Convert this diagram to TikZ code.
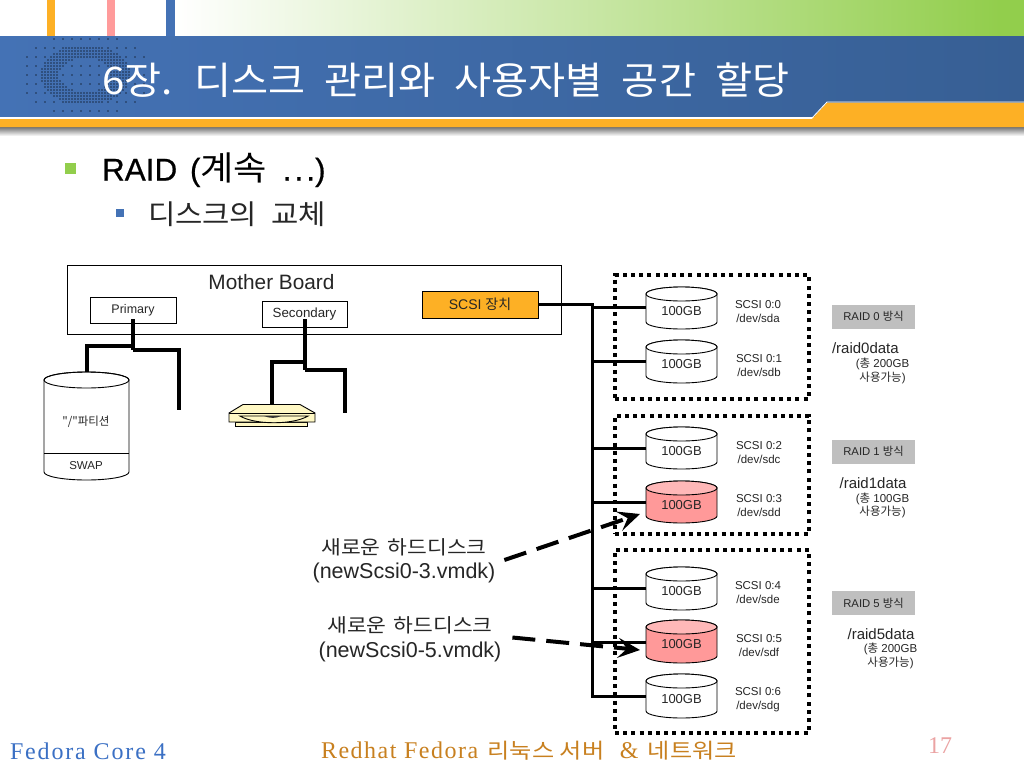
\documentclass[tikz,border=0pt]{standalone}
\usepackage{fontspec}
\setmainfont{Liberation Sans}
\newfontfamily\kr{Noto Sans CJK KR}
\newfontfamily\krw[FakeStretch=1.08,WordSpace=2.1]{Noto Sans CJK KR}
\newfontfamily\krt[FakeStretch=1.06,WordSpace=2.1]{Noto Sans CJK KR}
\newfontfamily\krf[FakeStretch=1.12,WordSpace=1.5]{Noto Sans CJK KR}
\newfontfamily\krg[FakeStretch=1.15]{Noto Sans CJK KR}
\newfontfamily\srf[LetterSpace=7.7]{Liberation Serif}
\newfontfamily\srg[LetterSpace=6.3]{Liberation Serif}
\newfontfamily\srfn{Liberation Serif}
\newfontfamily\lbf[FakeBold=0.6]{Liberation Sans}
\usetikzlibrary{arrows.meta}
\definecolor{orangeA}{HTML}{FDB025}
\definecolor{pinkA}{HTML}{FF9B9B}
\definecolor{blueA}{HTML}{4472B5}
\definecolor{blueB}{HTML}{375F94}
\definecolor{greenA}{HTML}{92CE4C}
\definecolor{diskbody}{HTML}{FF9999}
\definecolor{disktop}{HTML}{FFB8B8}
\definecolor{raidgray}{HTML}{BFBFBF}
\definecolor{txt}{HTML}{262626}
\definecolor{cdfill}{HTML}{FFF8C4}
\definecolor{footblue}{HTML}{3B70C4}
\definecolor{footor}{HTML}{C8801F}
\definecolor{footpink}{HTML}{EBA3A3}
\tikzset{
  box/.style={draw=black,line width=.9pt,inner sep=0pt,fill=white},
  plain/.style={inner sep=0pt,outer sep=0pt,text=txt,align=center},
  small/.style={plain,font=\fontsize{11.5}{14}\selectfont},
  thickbus/.style={line width=3pt,line join=miter},
  idebus/.style={line width=4pt,line join=miter},
  dotbox/.style={draw=black,line width=4pt,dash pattern=on 4pt off 4.2pt},
  newdisk/.style={line width=4pt,dash pattern=on 23pt off 11pt,-{Stealth[length=22pt,width=20pt,inset=9pt]}},
  raidbox/.style={inner sep=0pt,fill=raidgray,minimum width=83pt,minimum height=24pt,text=txt,font=\fontsize{11.3}{12}\selectfont},
  newlabel/.style={plain,font=\fontsize{21.5}{24.5}\selectfont},
  raidname/.style={plain,font=\fontsize{15}{16}\selectfont},
  raidnote/.style={plain,font=\fontsize{11.5}{13.5}\selectfont},
}
% name, top y, bottom y, body colour, top colour
\newcommand{\disk}[5]{%
  \pgfmathsetmacro{\mid}{(#2+#3)/2}
  \draw[line width=.9pt,fill=#4] (646,#2+7) -- (646,#3-7) arc[start angle=180,end angle=0,x radius=35.5,y radius=7] -- (717,#2+7) arc[start angle=0,end angle=-180,x radius=35.5,y radius=7] -- cycle;
  \draw[line width=.9pt,fill=#5] (681.5,#2+7) ellipse[x radius=35.5,y radius=7];
  \node[inner sep=0pt,minimum width=71pt,minimum height=30pt] (#1) at (681.5,\mid) {};
  \node[plain,font=\fontsize{13}{14}\selectfont] (#1t) at (681.5,\mid+3) {100GB};
}
\begin{document}
\begin{tikzpicture}[x=1pt,y=-1pt]
\useasboundingbox (0,0) rectangle (1024,768);
\fill[white] (0,0) rectangle (1024,768);
% header
\shade[left color=white,right color=greenA] (175,0) rectangle (1000,37);
\fill[greenA] (1000,0) rectangle (1024,37);
\fill[orangeA] (47,0) rectangle (55,37);
\fill[pinkA] (107,0) rectangle (115,37);
\fill[blueA] (166,0) rectangle (175,37);
\shade[top color=black!55,bottom color=white] (0,127) rectangle (1024,136);
\shade[left color=blueA,right color=blueB] (0,37) rectangle (1024,118);
\foreach \x in {18,21,...,150}{\foreach \y in {39,42,...,111}{%
  \pgfmathsetmacro{\dd}{((\x-85)/45)^2+((\y-75)/30)^2}
  \pgfmathtruncatemacro{\kind}{\dd<1 && \dd>0.32 ? 1 : ((\dd<2.1 && mod(\x,9)==0 && mod(\y,9)==3) ? 1 : 0)}
  \ifnum\kind=1 \fill[blueB!50!black] (\x,\y) circle[radius=.8]; \fi
}}
\fill[white] (0,117) rectangle (815,119);
\fill[orangeA] (0,119) -- (812,119) -- (827,102.5) -- (1024,102.5) -- (1024,127) -- (0,127) -- cycle;
\draw[white,line width=.8pt] (812,118) -- (827,102) -- (1024,102);
\node[plain,text=white,anchor=west,font=\krt\fontsize{38}{40}\selectfont] (title) at (102,80) {6장. 디스크 관리와 사용자별 공간 할당};
% bullets
\fill[greenA] (65,163) rectangle (76,174);
\node[plain,anchor=west,text=black,font=\lbf\fontsize{31.5}{34}\selectfont] (b1) at (102,170) {RAID\hspace{4pt} ({\krw\fontsize{33.5}{34}\selectfont 계속}\hspace{7pt} .\hspace{3pt}.\hspace{3pt}.)};
\fill[blueA] (116,209) rectangle (124,217);
\node[plain,anchor=west,font=\krw\fontsize{27.5}{32}\selectfont] (b2) at (148,214) {디스크의 교체};
% motherboard
\node[box,minimum width=494pt,minimum height=69pt] (mb) at (314,299.5) {};
\node[plain,font=\fontsize{20.8}{22}\selectfont] (mbt) at (271.5,282) {Mother Board};
\node[box,minimum width=86pt,minimum height=26pt,font=\fontsize{12.5}{14}\selectfont,text=txt] (prim) at (133,310) {Primary};
\node[box,minimum width=85pt,minimum height=26pt,font=\fontsize{13.3}{14}\selectfont,text=txt] (sec) at (304.5,314) {Secondary};
\node[box,fill=orangeA,minimum width=116pt,minimum height=27pt,font=\fontsize{14}{15}\selectfont,text=txt] (scsi) at (480,304.5) {SCSI {\kr 장치}};
% hdd on primary
\draw[line width=.9pt,fill=white] (44,380) -- (44,472) arc[start angle=180,end angle=0,x radius=42.5,y radius=8] -- (129,380) arc[start angle=0,end angle=-180,x radius=42.5,y radius=8] -- cycle;
\draw[line width=.9pt] (86.5,380) ellipse[x radius=42.5,y radius=8];
\draw[line width=.9pt] (44,453) -- (129,453);
\coordinate (hdd) at (87,372);
\node[plain,font=\kr\fontsize{11.5}{12}\selectfont] (part) at (86,422) {"/"파티션};
\node[plain,font=\fontsize{11.5}{14}\selectfont] (swap) at (86,466) {SWAP};
% cd drive
\draw[line width=.9pt,fill=cdfill] (235,422) rectangle (307,426.5);
\draw[line width=.9pt,fill=cdfill] (229,413) -- (243,404.5) -- (300,404.5) -- (315,413) -- (315,422) -- (229,422) -- cycle;
\draw[line width=.9pt] (229,413) -- (315,413);
\draw[line width=.9pt,fill=cdfill] (240,416) .. controls (255,425) and (293,425) .. (308,416) -- cycle;
\fill[black!80] (264,416) .. controls (270,418.5) and (276,418.5) .. (281,416) -- cycle;
\coordinate (cd) at (272,404);
% ide buses
\coordinate (pa) at (133,319);\coordinate (pl) at (133,346);\coordinate (pr) at (133,350);
\coordinate (pl2) at (87,346);\coordinate (pr2) at (179,350);\coordinate (pe) at (179,410);
\draw[idebus] (pa) -- (pr);
\draw[idebus] (pl) -- (pl2) -- (hdd);
\draw[idebus] (pr) -- (pr2) -- (pe);
\coordinate (sa) at (305,319);\coordinate (sl) at (305,362);\coordinate (sr) at (305,370);
\coordinate (sl2) at (272,362);\coordinate (sr2) at (345,370);\coordinate (se) at (345,413);
\draw[idebus] (sa) -- (sr);
\draw[idebus] (sl) -- (sl2) -- (cd);
\draw[idebus] (sr) -- (sr2) -- (se);
% disks
\disk{da}{287}{329}{white}{white}
\disk{db}{340}{383}{white}{white}
\disk{dc}{427}{469}{white}{white}
\disk{dd}{481}{523}{diskbody}{disktop}
\disk{de}{567}{610}{white}{white}
\disk{df}{620}{663}{diskbody}{disktop}
\disk{dg}{674}{718}{white}{white}
% scsi bus
\coordinate (bt) at (592,304.5);
\coordinate (bb) at (592,696);
\draw[thickbus] (scsi.east) -- (bt) -- (bb) -- (dg.west |- bb);
\foreach \d/\yy in {da/307,db/361,dc/448,dd/502,de/588,df/642}{
  \coordinate (j\d) at (592,\yy);
  \draw[thickbus] (j\d) -- (\d.west |- j\d);
}
% dotted boxes
\node[dotbox,inner sep=0pt,minimum width=194pt,minimum height=124pt] (g0) at (712,337) {};
\node[dotbox,inner sep=0pt,minimum width=194pt,minimum height=118pt] (g1) at (712,474.5) {};
\node[dotbox,inner sep=0pt,minimum width=194pt,minimum height=183pt] (g5) at (712,641.5) {};
% scsi labels
\node[small] (s0) at (758,312) {SCSI 0:0\\/dev/sda};
\node[small] (s1) at (759,366) {SCSI 0:1\\/dev/sdb};
\node[small] (s2) at (759,453) {SCSI 0:2\\/dev/sdc};
\node[small] (s3) at (759,506) {SCSI 0:3\\/dev/sdd};
\node[small] (s4) at (758,593) {SCSI 0:4\\/dev/sde};
\node[small] (s5) at (759,646) {SCSI 0:5\\/dev/sdf};
\node[small] (s6) at (758,700) {SCSI 0:6\\/dev/sdg};
% raid labels
\node[raidbox] (r0) at (873.5,316.5) {RAID 0 {\kr 방식}};
\node[raidbox] (r1) at (873.5,451.5) {RAID 1 {\kr 방식}};
\node[raidbox] (r5) at (873.5,603) {RAID 5 {\kr 방식}};
\node[raidname,anchor=west] (n0) at (832,348) {/raid0data};
\node[raidnote] (t0) at (882.5,371) {({\kr 총} 200GB\\{\kr 사용가능})};
\node[raidname] (n1) at (873,483) {/raid1data};
\node[raidnote] (t1) at (882.5,505.5) {({\kr 총} 100GB\\{\kr 사용가능})};
\node[raidname] (n5) at (881,634) {/raid5data};
\node[raidnote] (t5) at (890.5,656) {({\kr 총} 200GB\\{\kr 사용가능})};
% new disks
\node[newlabel] (l3) at (404,561) {{\krf\fontsize{19.2}{24.5}\selectfont 새로운 하드디스크}\\(newScsi0-3.vmdk)};
\node[newlabel] (l5) at (410,639.5) {{\krf\fontsize{19.2}{24.5}\selectfont 새로운 하드디스크}\\(newScsi0-5.vmdk)};
\coordinate (a3) at (640,514);
\coordinate (a5) at (640,650);
\draw[newdisk] (l3.east) ++(9,-1) -- (a3);
\draw[newdisk] (l5.east) ++(11,-2) -- (a5);
% footer
\node[plain,anchor=west,text=footblue,font=\srf\fontsize{24}{26}\selectfont] (f1) at (10,751) {Fedora Core 4};
\node[plain,anchor=west,text=footor,font=\srg\fontsize{24}{26}\selectfont] (f2) at (321,751) {Redhat Fedora\hspace{2pt} {\krg\fontsize{21}{26}\selectfont 리눅스 서버}\hspace{8pt} \&\hspace{2pt} {\krg\fontsize{21}{26}\selectfont 네트워크}};
\node[plain,text=footpink,font=\srfn\fontsize{24}{26}\selectfont] (f3) at (940,746) {17};
\end{tikzpicture}
\end{document}
